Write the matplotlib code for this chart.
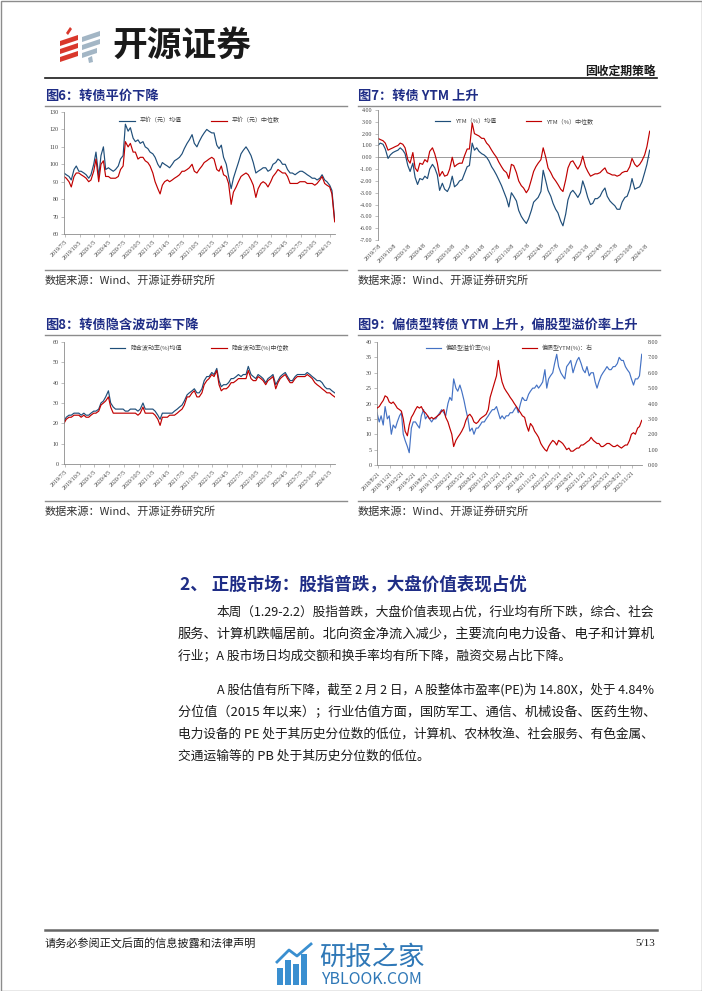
import numpy as np
import pandas as pd
import matplotlib
matplotlib.use("Agg")
import matplotlib.pyplot as plt
from matplotlib.patches import Polygon, Rectangle
from matplotlib.ticker import FormatStrFormatter

plt.rcParams['font.family'] = ['Noto Sans CJK SC', 'DejaVu Sans']
plt.rcParams['axes.unicode_minus'] = False

# ---- data, semi-monthly readings (1st / 15th) ----
# fig 6: parity
parity_mean = [95, 94, 93, 91, 97, 99, 96, 96, 95, 94, 92, 94,
               100, 107, 93, 105, 110, 97, 98, 97, 96, 97, 99, 103, 105, 123, 119, 121, 115, 113, 114, 112, 113, 110, 109, 107,
               106, 104, 100, 98, 101, 100, 99, 98, 100, 102, 103, 104, 106, 109, 112, 114, 117, 112, 110, 113, 116, 118, 120, 119,
               118, 118, 111, 109, 111, 104, 100, 93, 86, 92, 97, 101, 106, 108, 110, 108, 105, 101, 95, 96, 97, 98, 98, 96,
               97, 100, 101, 103, 102, 100, 100, 97, 95, 95, 94, 95, 96, 96, 95, 94, 93, 92, 92, 91, 92, 94, 91, 90,
               88, 85, 68]
parity_median = [93, 92, 90, 87, 93, 95, 95, 94, 93, 92, 90, 91,
                 96, 103, 90, 100, 102, 93, 93, 92, 92, 92, 93, 97, 99, 113, 110, 112, 107, 107, 103, 104, 104, 102, 101, 99,
                 95, 90, 86, 83, 88, 90, 91, 90, 91, 92, 93, 94, 96, 96, 97, 98, 100, 96, 95, 97, 99, 101, 102, 103,
                 104, 103, 97, 96, 99, 94, 93, 89, 77, 84, 87, 90, 93, 94, 95, 94, 91, 88, 81, 86, 89, 90, 89, 87,
                 90, 93, 95, 97, 96, 95, 95, 93, 89, 89, 89, 89, 90, 90, 90, 89, 89, 89, 88, 89, 91, 93, 89, 88,
                 87, 83, 67]
# fig 7: YTM
ytm_mean = [1.0, 1.2, 1.1, 0.7, -0.1, 0.2, 0.4, 0.5, 0.6, 0.8, 0.6, 0.3,
            -0.7, -1.2, -0.5, -1.7, -2.3, -1.8, -1.9, -1.6, -1.8, -1.0, -0.6, -0.9, -1.5, -2.8, -2.2, -2.7, -2.9, -2.5, -1.6, -2.5, -2.3, -2.0, -1.9, -1.4,
            -0.8, -0.7, 1.2, 0.6, 0.8, 0.5, 0.3, 0.2, 0.0, -0.3, -0.8, -1.1, -1.5, -1.9, -2.4, -2.9, -3.5, -4.2, -3.0, -3.3, -3.7, -4.5, -5.0, -5.3,
            -5.6, -5.2, -4.5, -3.8, -3.6, -3.4, -2.9, -1.1, -2.0, -2.8, -3.3, -3.9, -4.4, -4.7, -5.4, -5.8, -4.8, -3.6, -3.0, -2.8, -3.1, -3.4, -3.0, -2.0,
            -2.7, -3.4, -4.0, -3.9, -3.5, -3.5, -3.3, -2.9, -2.6, -3.3, -3.7, -3.9, -4.1, -4.4, -4.4, -3.8, -3.4, -3.3, -2.7, -1.8, -2.7, -2.6, -2.5, -2.1,
            -1.3, -0.6, 0.6]
ytm_median = [1.6, 1.5, 1.4, 1.2, 0.6, 0.7, 0.8, 0.9, 1.0, 1.2, 1.1, 0.8,
              -0.2, -0.5, 0.4, -0.9, -1.2, -0.5, -0.6, -0.2, -0.4, 0.5, 0.8, 0.3, -0.5, -1.6, -1.2, -1.6, -1.5, -1.0, 0.0, -0.8, -0.6, -0.5, -0.5, 0.1,
              0.7, 0.7, 2.9, 2.0, 1.9, 1.8, 1.6, 1.6, 1.2, 1.0, 0.6, 0.3, 0.0, -0.4, -0.8, -1.1, -1.3, -1.8, -0.6, -0.7, -1.3, -2.0, -2.4, -2.6,
              -3.0, -2.7, -1.9, -1.2, -0.8, -0.5, -0.2, 0.8, 0.0, -0.9, -1.3, -1.7, -2.0, -2.3, -2.7, -2.9, -1.9, -0.9, -0.4, -0.3, -0.7, -1.0, -0.6, 0.1,
              -0.8, -1.2, -1.6, -1.5, -1.4, -1.4, -1.3, -1.1, -0.9, -1.3, -1.4, -1.5, -1.5, -1.6, -1.5, -1.3, -1.2, -1.2, -0.8, -0.1, -0.6, -0.8, -0.6, -0.3,
              0.2, 0.9, 2.2]
# fig 8: implied volatility
iv_mean = [21, 23, 24, 24, 25, 25, 25, 24, 25, 24, 24, 25,
           26, 26, 27, 30, 31, 33, 36, 30, 28, 27, 27, 27, 27, 26, 26, 27, 27, 27, 26, 27, 30, 27, 27, 27,
           27, 26, 24, 22, 25, 25, 25, 25, 25, 26, 27, 28, 29, 31, 34, 35, 36, 37, 35, 35, 37, 41, 43, 43,
           45, 44, 47, 41, 38, 39, 39, 40, 42, 42, 43, 44, 43, 44, 44, 48, 44, 43, 42, 44, 43, 42, 40, 42,
           43, 44, 39, 41, 43, 44, 45, 43, 41, 41, 43, 44, 44, 44, 44, 45, 44, 43, 42, 41, 41, 40, 38, 37,
           37, 36, 35]
iv_median = [20, 22, 23, 23, 24, 24, 24, 23, 24, 23, 23, 24,
             25, 25, 26, 29, 30, 31, 33, 28, 25, 25, 25, 25, 25, 25, 25, 25, 25, 25, 24, 25, 28, 25, 25, 25,
             25, 24, 22, 19, 23, 23, 23, 24, 24, 24, 25, 26, 27, 29, 33, 33, 35, 36, 33, 33, 35, 39, 41, 42,
             44, 43, 46, 39, 36, 37, 37, 38, 40, 40, 41, 42, 42, 42, 42, 46, 42, 41, 41, 43, 42, 41, 39, 41,
             42, 43, 37, 40, 42, 43, 44, 42, 40, 40, 42, 43, 43, 43, 43, 44, 43, 42, 40, 39, 38, 37, 36, 35,
             35, 34, 33]
# fig 9: equity-like premium (left) and bond-like YTM (right), from 2018-08-15
premium = [17, 14, 16, 13, 19, 15, 16, 10, 13,
           12, 14, 16, 17, 10, 8, 6, 4, 12, 14, 14, 13, 12, 16, 18, 15, 16, 15, 14, 15, 15, 16, 17, 18,
           17, 16, 20, 22, 21, 28, 25, 24, 26, 24, 21, 18, 15, 11, 12, 10, 12, 12, 13, 14, 14, 15, 16, 17,
           18, 18, 19, 17, 15, 16, 15, 16, 16, 17, 17, 18, 19, 17, 20, 22, 21, 21, 23, 24, 25, 25, 26, 25,
           26, 27, 31, 25, 28, 29, 30, 33, 36, 32, 30, 29, 28, 32, 33, 34, 30, 32, 34, 35, 33, 31, 30, 32,
           29, 30, 30, 27, 25, 27, 29, 30, 31, 32, 31, 31, 32, 32, 33, 35, 34, 34, 32, 31, 30, 28, 26, 28,
           28, 29, 36]
bond_ytm = [3.7, 3.8, 4.0, 4.2, 4.5, 4.4, 4.1, 4.0, 4.1,
            3.9, 3.7, 3.6, 3.5, 3.0, 2.2, 1.9, 2.6, 3.1, 3.3, 3.6, 3.8, 3.7, 3.8, 3.5, 3.4, 3.2, 3.0, 3.1, 3.0, 3.1, 3.2, 3.3, 3.5,
            3.6, 3.1, 2.8, 2.4, 2.0, 1.2, 1.6, 1.8, 2.0, 2.2, 2.5, 2.9, 3.2, 3.3, 3.1, 2.8, 2.7, 2.8, 3.0, 3.1, 3.2, 3.3, 3.6, 4.4,
            4.9, 5.3, 5.8, 6.8, 6.0, 5.4, 5.0, 4.8, 4.6, 4.4, 4.2, 4.0, 3.8, 3.6, 3.4, 3.2, 3.1, 2.6, 2.2, 2.7, 2.5, 2.2, 2.0, 1.8,
            1.4, 1.2, 1.0, 0.9, 1.2, 1.4, 1.6, 1.5, 1.3, 1.6, 1.5, 1.4, 1.2, 1.0, 1.1, 0.9, 0.9, 1.0, 1.1, 1.1, 1.3, 1.3, 1.4, 1.5,
            1.6, 1.8, 1.6, 1.5, 1.4, 1.4, 1.2, 1.2, 1.3, 1.4, 1.4, 1.3, 1.2, 1.2, 1.3, 1.2, 1.1, 1.2, 1.3, 1.3, 1.6, 2.0, 2.1, 2.0,
            2.4, 2.5, 2.9]

ticks_6 = ['2019/7/5', '2019/10/5', '2020/1/5', '2020/4/5', '2020/7/5', '2020/10/5', '2021/1/5', '2021/4/5',
           '2021/7/5', '2021/10/5', '2022/1/5', '2022/4/5', '2022/7/5', '2022/10/5', '2023/1/5', '2023/4/5',
           '2023/7/5', '2023/10/5', '2024/1/5']
ticks_7 = [t.rsplit('/', 1)[0] + '/8' for t in ticks_6]
ticks_9 = ['2018/8/21', '2018/11/21', '2019/2/21', '2019/5/21', '2019/8/21', '2019/11/21', '2020/2/21',
           '2020/5/21', '2020/8/21', '2020/11/21', '2021/2/21', '2021/5/21', '2021/8/21', '2021/11/21',
           '2022/2/21', '2022/5/21', '2022/8/21', '2022/11/21', '2023/2/21', '2023/5/21', '2023/8/21', '2023/11/21']

dates_a = pd.date_range('2019-07-01', periods=len(parity_mean), freq='SMS')
dates_b = pd.date_range('2018-08-15', periods=len(premium), freq='SMS')

BLUE = '#1f4e79'
RED = '#c00000'
NAVY = '#1f2d86'
W, H = 702, 991

fig = plt.figure(figsize=(W / 100, H / 100), dpi=100)
ov = fig.add_axes([0, 0, 1, 1])
ov.set_xlim(0, W)
ov.set_ylim(H, 0)
ov.axis('off')


def px_axes(x0, y0, x1, y1):
    return fig.add_axes([x0 / W, 1 - y1 / H, (x1 - x0) / W, (y1 - y0) / H])


def style(ax, lo, hi, step, fmt, labels, xl):
    ax.set_ylim(lo, hi)
    ax.set_yticks(np.arange(lo, hi + step / 2, step))
    ax.yaxis.set_major_formatter(FormatStrFormatter(fmt))
    ax.set_xlim(pd.Timestamp(xl[0]), pd.Timestamp(xl[1]))
    pos = pd.to_datetime(labels, format='%Y/%m/%d')
    ax.set_xticks(pos)
    ax.set_xticklabels(labels, rotation=45, ha='right', rotation_mode='anchor')
    for s in ['top', 'right']:
        ax.spines[s].set_visible(False)
    for s in ['left', 'bottom']:
        ax.spines[s].set_color('#8c8c8c')
        ax.spines[s].set_linewidth(0.6)
    ax.tick_params(labelsize=4.3, length=2, width=0.4, colors='#8c8c8c', labelcolor='#404040', pad=2)
    for lb in ax.get_xticklabels() + ax.get_yticklabels():
        lb.set_fontfamily('Liberation Serif')
    ax.patch.set_alpha(0)


def frame(x0, x1, yt, title, ys):
    ov.text(x0, yt, title, fontsize=9.5, fontweight='bold', color=NAVY, va='center', ha='left')
    ov.plot([x0, x1], [yt + 10, yt + 10], color='#8c8c8c', lw=1.0)
    ov.plot([x0, x1], [ys - 10, ys - 10], color='#8c8c8c', lw=1.0)
    ov.text(x0, ys, '数据来源：Wind、开源证券研究所', fontsize=8, color='#333333', va='center', ha='left')


def legend(ax, y=1.0):
    ax.legend(loc='upper center', bbox_to_anchor=(0.5, y), ncol=2, frameon=False, fontsize=4.3,
              handlelength=2.6, columnspacing=5, labelcolor='#404040')


# fig 6
ax6 = px_axes(64, 112, 335, 234)
ax6.plot(dates_a, parity_mean, color=BLUE, lw=0.85, label='平价（元）均值')
ax6.plot(dates_a, parity_median, color=RED, lw=0.85, label='平价（元）中位数')
style(ax6, 60, 130, 10, '%d', ticks_6, ('2019-07-01', '2024-02-03'))
legend(ax6)

# fig 7
ax7 = px_axes(378, 110, 650, 240)
ax7.axhline(0, color='#8c8c8c', lw=0.6)
ax7.plot(dates_a, ytm_mean, color=BLUE, lw=0.85, label='YTM（%）均值')
ax7.plot(dates_a, ytm_median, color=RED, lw=0.85, label='YTM（%）中位数')
style(ax7, -7, 4, 1, '%.2f', ticks_7, ('2019-07-01', '2024-02-03'))
ax7.spines['bottom'].set_visible(False)
ax7.tick_params(axis='x', length=0)
legend(ax7, 0.98)

# fig 8
ax8 = px_axes(64, 342, 335, 464)
ax8.plot(dates_a, iv_mean, color=BLUE, lw=0.85, label='隐含波动率(%)均值')
ax8.plot(dates_a, iv_median, color=RED, lw=0.85, label='隐含波动率(%)中位数')
style(ax8, 0, 60, 10, '%d', ticks_6, ('2019-07-01', '2024-02-03'))
legend(ax8, 1.02)

# fig 9
ax9 = px_axes(377, 342, 642, 465)
l1, = ax9.plot(dates_b, premium, color='#4472c4', lw=0.85, label='偏股型溢价率(%)')
style(ax9, 0, 40, 5, '%d', ticks_9, ('2018-08-15', '2024-02-03'))
ax9r = ax9.twinx()
l2, = ax9r.plot(dates_b, bond_ytm, color=RED, lw=0.85, label='偏债型YTM(%)：右')
ax9r.set_ylim(0, 8)
ax9r.set_yticks(np.arange(0, 8.5, 1))
ax9r.yaxis.set_major_formatter(FormatStrFormatter('%.2f'))
for s in ['top', 'left', 'bottom', 'right']:
    ax9r.spines[s].set_visible(False)
ax9r.tick_params(labelsize=4.3, length=0, labelcolor='#404040', pad=4)
for lb in ax9r.get_yticklabels():
    lb.set_fontfamily('Liberation Serif')
ax9.legend([l1, l2], [l1.get_label(), l2.get_label()], loc='upper center', bbox_to_anchor=(0.5, 1.02),
           ncol=2, frameon=False, fontsize=4.3, handlelength=2.6, columnspacing=5, labelcolor='#404040')

frame(45, 347, 96, '图6：转债平价下降', 280)
frame(358, 660, 96, '图7：转债 YTM 上升', 280)
frame(45, 347, 325, '图8：转债隐含波动率下降', 511)
frame(358, 660, 325, '图9：偏债型转债 YTM 上升，偏股型溢价率上升', 511)

# header
for pts in [[(60, 41), (78, 35), (78, 40), (60, 46)], [(60, 49), (78, 43), (78, 48), (60, 54)],
            [(60, 57), (78, 51), (78, 56), (60, 62)], [(66, 33), (70, 27), (72, 29), (68, 35)]]:
    ov.add_patch(Polygon(pts, closed=True, color='#d9382c', lw=0))
for pts in [[(82, 37), (100, 31), (100, 36), (82, 42)], [(82, 45), (100, 39), (100, 44), (82, 50)],
            [(82, 53), (97, 48), (97, 53), (82, 58)], [(88, 58), (92, 56), (93, 62), (89, 63)]]:
    ov.add_patch(Polygon(pts, closed=True, color='#a3b6c5', lw=0))
ov.text(112, 45, '开源证券', fontsize=25, fontweight='bold', color='#1a1a1a', va='center', ha='left')
ov.text(656, 71, '固收定期策略', fontsize=8.5, fontweight='bold', color='#1a1a1a', va='center', ha='right')
ov.plot([45, 657], [78, 78], color='#1a1a1a', lw=1.2)

# section text
ov.text(180, 585, '2、 正股市场：股指普跌，大盘价值表现占优', fontsize=12.6, fontweight='bold',
        color=NAVY, va='center', ha='left')
body = [(217, 612, '本周（1.29-2.2）股指普跌，大盘价值表现占优，行业均有所下跌，综合、社会', True),
        (178, 634, '服务、计算机跌幅居前。北向资金净流入减少，主要流向电力设备、电子和计算机', True),
        (178, 656, '行业；A 股市场日均成交额和换手率均有所下降，融资交易占比下降。', False),
        (217, 690, 'A 股估值有所下降，截至 2 月 2 日，A 股整体市盈率(PE)为 14.80X，处于 4.84%', True),
        (178, 712, '分位值（2015 年以来）；行业估值方面，国防军工、通信、机械设备、医药生物、', True),
        (178, 734, '电力设备的 PE 处于其历史分位数的低位，计算机、农林牧渔、社会服务、有色金属、', True),
        (178, 756, '交通运输等的 PB 处于其历史分位数的低位。', False)]
renderer = fig.canvas.get_renderer()
for x, y, s, full in body:
    t = ov.text(x, y, s, fontsize=9.2, color='#1a1a1a', va='center', ha='left')
    if full:
        # fit justified lines to the right margin
        bb = t.get_window_extent(renderer=renderer)
        t.set_fontsize(9.2 * (655 - x) / bb.width)

# footer
ov.plot([45, 657], [930, 930], color='#666666', lw=1.8)
ov.text(45, 943, '请务必参阅正文后面的信息披露和法律声明', fontsize=8, color='#1a1a1a', va='center', ha='left')
ov.text(655, 943, '5/13', fontsize=8, color='#1a1a1a', va='center', ha='right', fontfamily='Liberation Serif')
for bx, top in [(277, 968), (285, 960), (293, 964), (301, 954)]:
    ov.add_patch(Rectangle((bx, top), 6, 985 - top, color='#3a8fd0', lw=0))
ov.plot([277, 289, 297, 311], [962, 950, 956, 944], color='#3a8fd0', lw=2)
ov.text(319, 957, '研报之家', fontsize=19, color='#2f78b7', va='center', ha='left')
ov.text(321, 979, 'YBLOOK.COM', fontsize=11.5, color='#2f78b7', va='center', ha='left')
ov.add_patch(Rectangle((0.5, 0.5), W - 1, H - 1, fill=False, ec='#8c8c8c', lw=1))

fig.savefig('out.png', dpi=100)
